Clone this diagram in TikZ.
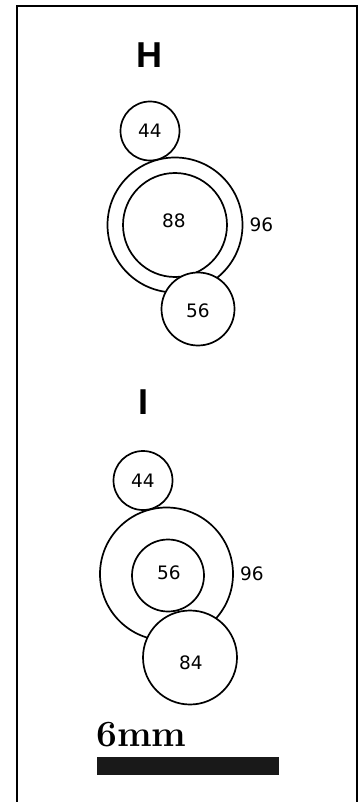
\documentclass[tikz,border=0pt]{standalone}
\usepackage{fontspec}
\newfontfamily\numfont{DejaVu Sans}
\newfontfamily\headfont{Liberation Sans}
\begin{document}
\begin{tikzpicture}[x=1pt,y=-1pt,
  ring/.style={circle,draw=black,line width=1.7pt,fill=white,inner sep=0pt,minimum size=#1},
  num/.style={font=\numfont\fontsize{18.5}{20}\selectfont,inner sep=0pt},
  head/.style={font=\headfont\bfseries\fontsize{36}{40}\selectfont,inner sep=0pt}]
\useasboundingbox (0,0) rectangle (361,802);
\fill[white] (0,0) rectangle (361,802);
% frame
\draw[line width=1.8pt] (17,802) -- (17,6) -- (357,6) -- (357,802);
% group H
\node[head] (hH) at (149,55) {H};
\node[ring=135pt] (h96) at (175,225) {};
\node[ring=104pt] (h88) at (175,225) {};
\node[ring=59pt] (h44) at (150,131) {};
\node[ring=73pt] (h56) at (198,309) {};
\node[num] (h44t) at (h44) {44};
\node[num] (h88t) at (174,221) {88};
\node[num] (h56t) at (198,311) {56};
\node[num,anchor=west] (h96t) at (h96.east) {\hspace{6pt}96};
% group I
\node[head] (hI) at (143,402) {I};
\node[ring=133pt] (i96) at (166.5,574) {};
\node[ring=72pt] (i56) at (168,575.5) {};
\node[ring=59pt] (i44) at (143,480.5) {};
\node[ring=94pt] (i84) at (190,657.5) {};
\node[num] (i44t) at (i44) {44};
\node[num] (i56t) at (169,573) {56};
\node[num] (i84t) at (191,663) {84};
\node[num,anchor=west] (i96t) at (i96.east) {\hspace{6pt}96};
% scale bar
\node[font=\bfseries\fontsize{37}{40}\selectfont,anchor=base west,inner sep=0pt] (lbl) at (96,746) {6mm};
\fill[black!90] (97,757) rectangle (279,775);
\end{tikzpicture}
\end{document}
